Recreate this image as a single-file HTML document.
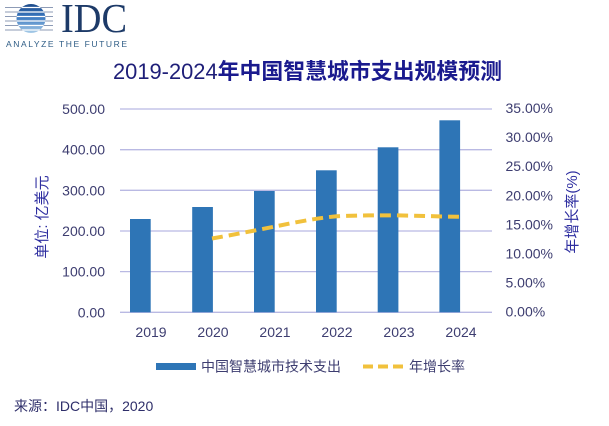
<!DOCTYPE html>
<html>
<head>
<meta charset="utf-8">
<style>
html,body{margin:0;padding:0;background:#fff;}
svg{display:block;}
text{font-family:"Liberation Sans","Noto Sans CJK SC",sans-serif;}
</style>
</head>
<body>
<svg width="609" height="426" viewBox="0 0 609 426" xmlns="http://www.w3.org/2000/svg">
<defs>
<linearGradient id="gl" x1="0" y1="0" x2="0" y2="1">
<stop offset="0" stop-color="#1c4a8a"/>
<stop offset="0.45" stop-color="#3a78c0"/>
<stop offset="1" stop-color="#a8cce8"/>
</linearGradient>
<clipPath id="cc"><circle cx="31" cy="18.5" r="14.5"/></clipPath>
</defs>
<rect width="609" height="426" fill="#fff"/>

<!-- Logo -->
<g stroke="#8d9bb6" stroke-width="1">
<line x1="5" y1="7.5" x2="53" y2="7.5"/>
<line x1="5" y1="12" x2="53" y2="12"/>
<line x1="5" y1="16.5" x2="53" y2="16.5"/>
<line x1="5" y1="21" x2="53" y2="21"/>
<line x1="5" y1="25.5" x2="53" y2="25.5"/>
<line x1="5" y1="30" x2="53" y2="30"/>
</g>
<circle cx="31" cy="18.5" r="14.5" fill="url(#gl)"/>
<g stroke="#fff" stroke-width="1.3" clip-path="url(#cc)">
<line x1="10" y1="7.5" x2="52" y2="7.5"/>
<line x1="10" y1="12" x2="52" y2="12"/>
<line x1="10" y1="16.5" x2="52" y2="16.5"/>
<line x1="10" y1="21" x2="52" y2="21"/>
<line x1="10" y1="25.5" x2="52" y2="25.5"/>
<line x1="10" y1="30" x2="52" y2="30"/>
</g>
<text x="61" y="32" font-size="41" fill="#1d3a68" textLength="66" lengthAdjust="spacingAndGlyphs" style="font-family:'Liberation Serif',serif">IDC</text>
<text x="6" y="47" font-size="8.5" fill="#2f5d86" textLength="121" lengthAdjust="spacing">ANALYZE THE FUTURE</text>

<!-- Title -->
<text x="113" y="79" font-size="22" fill="#1e1e78" textLength="389" lengthAdjust="spacingAndGlyphs"><tspan>2019-2024</tspan><tspan font-weight="bold" fill="#1a1a8e">年中国智慧城市支出规模预测</tspan></text>

<!-- Gridlines -->
<g stroke="#b9b9e3" stroke-width="1.3">
<line x1="120" y1="109" x2="492" y2="109"/>
<line x1="120" y1="149.7" x2="492" y2="149.7"/>
<line x1="120" y1="190.3" x2="492" y2="190.3"/>
<line x1="120" y1="231" x2="492" y2="231"/>
<line x1="120" y1="271.6" x2="492" y2="271.6"/>
<line x1="120" y1="312.3" x2="492" y2="312.3"/>
</g>

<!-- Bars -->
<g fill="#2e75b6">
<rect x="130" y="219" width="20.7" height="93.3"/>
<rect x="192.2" y="207" width="20.7" height="105.3"/>
<rect x="254" y="191" width="20.7" height="121.3"/>
<rect x="316" y="170.3" width="20.7" height="142"/>
<rect x="377.7" y="147.3" width="20.7" height="165"/>
<rect x="439.4" y="120.3" width="20.7" height="192"/>
</g>

<!-- Line -->
<path d="M212,238.5 C232,235 255,230.5 275,226.5 C295,222.5 316,218 337,216.3 C358,215.3 378,215.2 399,215.4 C420,215.8 440,216.5 460,216.8" fill="none" stroke="#f1c13c" stroke-width="4" stroke-dasharray="11 6"/>

<!-- Left axis labels -->
<g font-size="14" fill="#3d3d70" text-anchor="end">
<text x="105" y="114">500.00</text>
<text x="105" y="154.7">400.00</text>
<text x="105" y="195.3">300.00</text>
<text x="105" y="236">200.00</text>
<text x="105" y="276.6">100.00</text>
<text x="105" y="317.3">0.00</text>
</g>

<!-- Right axis labels -->
<g font-size="14" fill="#3d3d70">
<text x="505.5" y="113">35.00%</text>
<text x="505.5" y="142.1">30.00%</text>
<text x="505.5" y="171.2">25.00%</text>
<text x="505.5" y="200.3">20.00%</text>
<text x="505.5" y="229.4">15.00%</text>
<text x="505.5" y="258.5">10.00%</text>
<text x="505.5" y="287.6">5.00%</text>
<text x="505.5" y="316.7">0.00%</text>
</g>

<!-- X labels -->
<g font-size="14" fill="#3d3d70" text-anchor="middle">
<text x="151" y="337">2019</text>
<text x="213" y="337">2020</text>
<text x="275" y="337">2021</text>
<text x="337" y="337">2022</text>
<text x="399" y="337">2023</text>
<text x="461" y="337">2024</text>
</g>

<!-- Axis titles -->
<text transform="translate(47,217) rotate(-90)" font-size="15" fill="#2e2ea0" text-anchor="middle">单位: 亿美元</text>
<text transform="translate(577,212) rotate(-90)" font-size="15" fill="#2e2ea0" text-anchor="middle">年增长率(%)</text>

<!-- Legend -->
<rect x="156" y="363" width="40" height="7" fill="#2e75b6"/>
<text x="201" y="371.5" font-size="14" fill="#3d3d70">中国智慧城市技术支出</text>
<line x1="363" y1="366.5" x2="403" y2="366.5" stroke="#f1c13c" stroke-width="4" stroke-dasharray="10 5"/>
<text x="409" y="371.5" font-size="14" fill="#3d3d70">年增长率</text>

<!-- Source -->
<text x="14" y="411" font-size="14" fill="#2e2e6a">来源：IDC中国，2020</text>
</svg>
</body>
</html>
